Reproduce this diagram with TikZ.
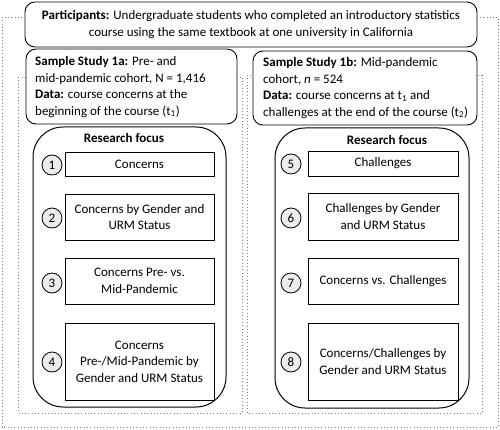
\documentclass[tikz,border=0pt]{standalone}
\usepackage{fontspec}
\setmainfont{Carlito}
\begin{document}
\begin{tikzpicture}[x=1pt,y=-1pt,
  font=\fontsize{13}{16.5}\selectfont,
  dotline/.style={draw=gray, line width=0.9pt, dash pattern=on 0.9pt off 2.4pt},
  topbox/.style={draw, line width=0.9pt, rounded corners=10pt, fill=white, inner sep=0pt, align=center},
  studybox/.style={draw, line width=0.9pt, rounded corners=10pt, fill=white, inner sep=0pt},
  studytext/.style={inner sep=0pt, align=flush left, anchor=west},
  focusbox/.style={draw, line width=1pt, rounded corners=30pt, inner sep=0pt},
  itembox/.style={draw, line width=0.8pt, inner sep=0pt, align=center},
  numcirc/.style={draw, circle, line width=0.8pt, fill=gray!15, minimum size=20pt, inner sep=0pt}
]
\useasboundingbox (0,0) rectangle (500,430);
% dotted frames
\draw[dotline] (2,17) rectangle (498,427);
\draw[dotline] (18,77) rectangle (242,413);
\draw[dotline] (247,75) rectangle (482,413);
% participants
\node[topbox, minimum width=452pt, minimum height=45pt] (part) at (251,24.5)
  {\textbf{Participants:} Undergraduate students who completed an introductory statistics\\
   course using the same textbook at one university in California};
% study boxes
\node[studybox, minimum width=211pt, minimum height=75pt] (s1a) at (131.5,86.5) {};
\node[studytext] (s1at) at (35,87)
  {\textbf{Sample Study 1a:} Pre- and\\
   mid-pandemic cohort, N = 1,416\\
   \textbf{Data:} course concerns at the\\
   beginning of the course (t\textsubscript{1})};
\node[studybox, minimum width=224pt, minimum height=74pt] (s1b) at (365,88) {};
\node[studytext] (s1bt) at (263,88)
  {\textbf{Sample Study 1b:} Mid-pandemic\\
   cohort, \textit{n} = 524\\
   \textbf{Data:} course concerns at t\textsubscript{1} and\\
   challenges at the end of the course (t\textsubscript{2})};
% focus boxes
\node[focusbox, minimum width=193pt, minimum height=280pt] (fl) at (129.5,267) {};
\node[focusbox, minimum width=194pt, minimum height=280pt] (fr) at (372,268) {};
\node[font=\fontsize{13}{16.5}\selectfont\bfseries] (fll) at (124,138) {Research focus};
\node[font=\fontsize{13}{16.5}\selectfont\bfseries] (frl) at (387,140) {Research focus};
% left items
\node[itembox, minimum width=149pt, minimum height=24pt] (b1) at (139.5,164) {Concerns};
\node[itembox, minimum width=149pt, minimum height=46pt] (b2) at (139.5,217) {Concerns by Gender and\\URM Status};
\node[itembox, minimum width=149pt, minimum height=46pt] (b3) at (139.5,281) {Concerns Pre- vs.\\Mid-Pandemic};
\node[itembox, minimum width=149pt, minimum height=77pt] (b4) at (139.5,361.5) {Concerns\\Pre-/Mid-Pandemic by\\Gender and URM Status};
\node[numcirc] (c1) at (52,165) {1};
\node[numcirc] (c2) at (52,218) {2};
\node[numcirc] (c3) at (52,283) {3};
\node[numcirc] (c4) at (52,362) {4};
% right items
\node[itembox, minimum width=150pt, minimum height=25pt] (b5) at (383,163.5) {Challenges};
\node[itembox, minimum width=150pt, minimum height=47pt] (b6) at (383,216.5) {Challenges by Gender\\and URM Status};
\node[itembox, minimum width=150pt, minimum height=46pt] (b7) at (383,281) {Concerns vs. Challenges};
\node[itembox, minimum width=150pt, minimum height=77pt] (b8) at (383,361.5) {Concerns/Challenges by\\Gender and URM Status};
\node[numcirc] (c5) at (291,164) {5};
\node[numcirc] (c6) at (291,218) {6};
\node[numcirc] (c7) at (291,283) {7};
\node[numcirc] (c8) at (291,362) {8};
\end{tikzpicture}
\end{document}
